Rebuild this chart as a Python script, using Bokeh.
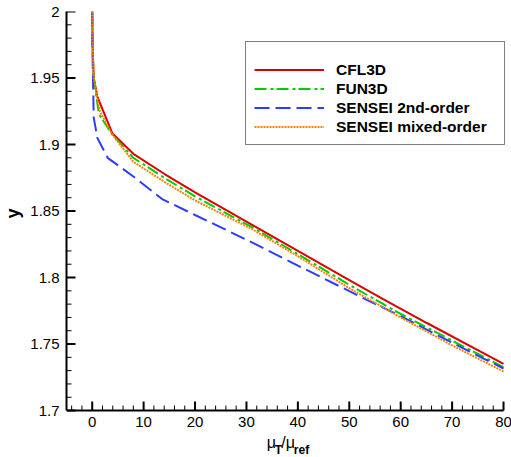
from bokeh.plotting import figure
from bokeh.models import (FixedTicker, Range1d, Legend, LegendItem,
                          CustomJSTickFormatter)
from bokeh.core.properties import value
from bokeh.embed import file_html
from bokeh.resources import INLINE
import math

# ---- data ----
cfl3d_mu = [0.0, 0.1, 0.3, 1.0, 3.9, 8.0, 14.0, 20.0, 30.0, 40.0, 50.0, 56.5, 65.0, 80.0]
cfl3d_y = [2.0, 1.97, 1.95, 1.936, 1.9085, 1.893, 1.878, 1.864, 1.842, 1.820, 1.798, 1.784, 1.766, 1.735]

fun3d_mu = [0.0, 0.1, 0.3, 1.3, 3.8, 8.0, 14.0, 20.0, 31.0, 40.0, 50.0, 60.0, 70.0, 80.0]
fun3d_y = [2.0, 1.97, 1.95, 1.923, 1.908, 1.890, 1.875, 1.861, 1.838, 1.8176, 1.7945, 1.7726, 1.7526, 1.7326]

sensei2_mu = [0.0, 0.05, 0.2, 0.3, 1.0, 3.0, 8.0, 13.6, 20.0, 29.7, 40.0, 53.0, 60.0, 70.0, 80.0]
sensei2_y = [2.0, 1.97, 1.94, 1.92, 1.905, 1.890, 1.876, 1.859, 1.847, 1.829, 1.809, 1.784, 1.771, 1.751, 1.7316]

senseim_mu = [0.0, 0.1, 0.3, 1.5, 3.8, 8.0, 14.0, 20.0, 31.0, 40.0, 50.0, 60.0, 70.0, 80.0]
senseim_y = [2.0, 1.97, 1.95, 1.925, 1.908, 1.887, 1.872, 1.858, 1.8366, 1.816, 1.792, 1.770, 1.749, 1.7293]

x_ticks = [0, 10, 20, 30, 40, 50, 60, 70, 80]
x_tick_labels = ["0", "10", "20", "30", "40", "50", "60", "70", "80"]
x_minor = [-4, -2] + [v for v in range(2, 80, 2) if v % 10 != 0]
y_ticks = [1.7, 1.75, 1.8, 1.85, 1.9, 1.95, 2.0]
y_minor = [round(1.7 + 0.01 * i, 2) for i in range(31) if i % 5 != 0]

names = ["CFL3D", "FUN3D", "SENSEI 2nd-order", "SENSEI mixed-order"]
colors = ["#dd0000", "#00cc00", "#2b3dff", "#ff8000"]

# axis extents
x_axis_lo, x_axis_hi = -5.0, 80.0
y_axis_lo, y_axis_hi = 1.7, 2.0
# the plotting frame is extended below/right of the axes so that the
# x-axis texts (drawn as glyphs) are not clipped
frame_x_hi = 81.55
frame_y_lo = 1.6662

FONT = "Liberation Sans"

p = figure(width=511, height=457, output_backend="svg", toolbar_location=None,
           x_range=Range1d(x_axis_lo, frame_x_hi), y_range=Range1d(frame_y_lo, y_axis_hi),
           min_border_left=65, min_border_right=0, min_border_top=11, min_border_bottom=2)
p.outline_line_color = None
p.grid.visible = False
p.background_fill_color = "white"
p.border_fill_color = "white"
p.xaxis.visible = False

ya = p.yaxis[0]
ya.bounds = (y_axis_lo, y_axis_hi)
ya.ticker = FixedTicker(ticks=y_ticks, minor_ticks=y_minor)
ya.axis_line_width = 2
ya.axis_line_color = "black"
ya.major_tick_line_color = None
ya.minor_tick_line_color = None
ya.major_tick_in = 0
ya.major_tick_out = 0
ya.minor_tick_in = 0
ya.minor_tick_out = 0
ya.major_label_standoff = 7
ya.major_label_text_font = FONT
ya.major_label_text_font_size = "15px"
ya.major_label_text_color = "black"
ya.formatter = CustomJSTickFormatter(
    code="return tick.toFixed(2).replace(/0+$/,'').replace(/\\.$/,'');")
# non-breaking spaces lift the title to the middle of the drawn axis
ya.axis_label = "\u00a0" * 8 + "y"
ya.axis_label_text_font = FONT
ya.axis_label_text_font_style = "bold"
ya.axis_label_text_font_size = "18px"
ya.axis_label_text_color = "black"
ya.axis_label_standoff = 4

# inward ticks on the left axis
p.ray(x=[x_axis_lo] * len(y_ticks), y=y_ticks, length=9, angle=0,
      length_units="screen", line_color="black", line_width=2)
p.ray(x=[x_axis_lo] * len(y_minor), y=y_minor, length=5, angle=0,
      length_units="screen", line_color="black", line_width=1)

# bottom axis: line, inward ticks, tick labels
p.line(x=[x_axis_lo, x_axis_hi], y=[y_axis_lo, y_axis_lo], line_color="black", line_width=2)
p.ray(x=x_ticks, y=[y_axis_lo] * len(x_ticks), length=9, angle=math.pi / 2,
      length_units="screen", line_color="black", line_width=2)
p.ray(x=x_minor, y=[y_axis_lo] * len(x_minor), length=5, angle=math.pi / 2,
      length_units="screen", line_color="black", line_width=1)
p.text(x=x_ticks, y=[y_axis_lo] * len(x_ticks), text=x_tick_labels,
       text_align="center", text_baseline="top", y_offset=6,
       text_font=value(FONT), text_font_size="15px", text_color="black")

# bottom axis title  mu_T / mu_ref
x_mid = (x_ticks[0] + x_ticks[-1]) / 2
parts = [("μ", -31, 32, "16px", "normal"), ("T", -23, 39, "12px", "bold"),
         ("/μ", -16.5, 32, "16px", "normal"), ("ref", -4, 39, "12px", "bold")]
for t, dx, dy, fs, st in parts:
    p.text(x=[x_mid], y=[y_axis_lo], text=[t], x_offset=dx, y_offset=dy,
           text_align="left", text_baseline="alphabetic",
           text_font=value(FONT), text_font_size=fs, text_font_style=st,
           text_color="black")

r_cfl = p.line(cfl3d_mu, cfl3d_y, line_color=colors[0], line_width=2)
r_fun = p.line(fun3d_mu, fun3d_y, line_color=colors[1], line_width=2, line_dash="12 4 3 3")
r_s2 = p.line(sensei2_mu, sensei2_y, line_color=colors[2], line_width=2, line_dash="15 6")
r_sm = p.line(senseim_mu, senseim_y, line_color=colors[3], line_width=2, line_dash="2 1")

legend = Legend(items=[LegendItem(label=names[0], renderers=[r_cfl]),
                       LegendItem(label=names[1], renderers=[r_fun]),
                       LegendItem(label=names[2], renderers=[r_s2]),
                       LegendItem(label=names[3], renderers=[r_sm])],
                location=(179, 310),
                title=" ", title_text_font_size="6px", title_standoff=4,
                glyph_width=70, glyph_height=19, label_height=19, label_width=160,
                spacing=0, label_standoff=12, padding=8, margin=0,
                label_text_font=FONT, label_text_font_style="bold",
                label_text_font_size="15.5px", label_text_color="black",
                border_line_color="black", border_line_width=1,
                background_fill_color="white", background_fill_alpha=1.0)
p.add_layout(legend, "center")

open("out.html", "w").write(file_html(p, INLINE))
